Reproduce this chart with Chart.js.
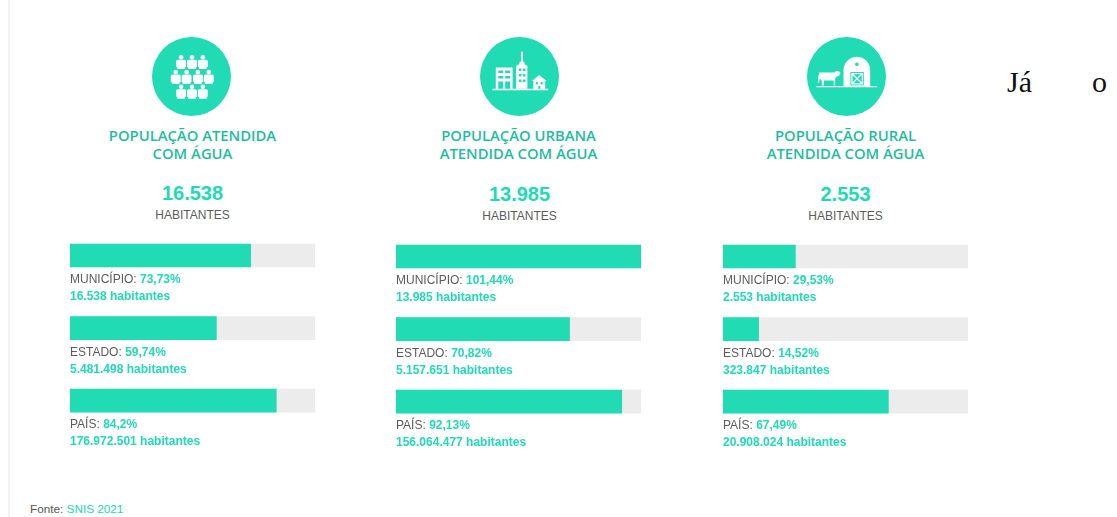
<!DOCTYPE html>
<html lang="pt-BR">
<head>
<meta charset="utf-8">
<title>População atendida com água</title>
<script src="https://cdn.jsdelivr.net/npm/chart.js@4/dist/chart.umd.min.js"></script>
<style>
    html, body { margin: 0; padding: 0; background: #fff; }
    body { width: 1117px; height: 517px; position: relative; overflow: hidden; font-family: "Liberation Sans", Arial, sans-serif; }
    .rule { position: absolute; left: 8px; top: 0; width: 2px; height: 517px; background: #f3f3f3; }
    .panel { position: absolute; top: 0; width: 245px; height: 517px; }
    .panel svg { position: absolute; top: 37px; width: 79px; height: 79px; }
    .title { position: absolute; top: 126px; left: -20px; width: 285px; text-align: center; font: 600 14.8px/18px "Open Sans", sans-serif; color: #1fbd9e; }
    .total { position: absolute; top: 181px; width: 245px; text-align: center; font-weight: bold; font-size: 20px; line-height: 24px; color: #20dbb3; }
    .unit { position: absolute; top: 208px; width: 245px; text-align: center; font-size: 12px; line-height: 14px; color: #5c5c5c; }
    canvas { position: absolute; left: 0; }
    .label { position: absolute; left: 0; font-size: 12px; line-height: 16.5px; color: #5c5c5c; white-space: nowrap; }
    .label b { color: #20dbb3; }
    .source { position: absolute; left: 30px; top: 502px; font-size: 11.75px; line-height: 14px; color: #555; }
    .source span { color: #20dbb3; }
    .stray { position: absolute; top: 68px; font: 30px/28px "Liberation Serif", serif; color: #111; }
</style>
</head>
<body>
<div class="rule"></div>
<div id="panels"></div>
<div class="source">Fonte: <span>SNIS 2021</span></div>
<div class="stray" style="left:1007px">Já</div>
<div class="stray" style="left:1092px">o</div>

<script>
const scopes = ['MUNICÍPIO', 'ESTADO', 'PAÍS'];
const panelTitles = ['POPULAÇÃO ATENDIDA<br>COM ÁGUA', 'POPULAÇÃO URBANA<br>ATENDIDA COM ÁGUA', 'POPULAÇÃO RURAL<br>ATENDIDA COM ÁGUA'];
const panelTotals = ['16.538', '13.985', '2.553'];

const atendidaValues = [73.73, 59.74, 84.2];
const urbanaValues = [101.44, 70.82, 92.13];
const ruralValues = [29.53, 14.52, 67.49];

const atendidaPercents = ['73,73%', '59,74%', '84,2%'];
const urbanaPercents = ['101,44%', '70,82%', '92,13%'];
const ruralPercents = ['29,53%', '14,52%', '67,49%'];

const atendidaPeople = ['16.538', '5.481.498', '176.972.501'];
const urbanaPeople = ['13.985', '5.157.651', '156.064.477'];
const ruralPeople = ['2.553', '323.847', '20.908.024'];

const trackValues = [100, 100, 100];

const panelLefts = [70, 396, 723];
const panelTops = [0, 1, 1];
const iconLefts = [81.7, 83.7, 83.7];
const totalLefts = [0, 1, 0];

// icons are plain decoration, one per panel
function person(x, y) {
    return `<circle cx="${x}" cy="${y}" r="2.3"/><path d="M${x - 5} ${y + 4}q0-1.500 2-1.500h6q2 0 2 1.500v6h-1v2h-8v-2h-1z"/>`;
}
const peopleIcon = [[29.5, 20.5], [40.5, 20.5], [51.5, 20.5], [24, 35.5], [35, 35.5], [46.5, 35.5], [57.5, 35.5], [29.5, 50.5], [40.5, 50.5], [51.5, 50.5]]
    .map(p => person(p[0], p[1])).join('');
const cityIcon = `<path d="M12.5 52.5h56.5v1.3H12.5z"/>
    <path fill-rule="evenodd" d="M16 31h17v21.5H16zM18.5 34v2.5h5V34zM25.5 34v2.5h5V34zM18.5 39.5V42h5v-2.500zM25.500 39.500V42h5v-2.500zM18.500 45v7.500h5V45zM25.500 45v7.500h5V45z"/>
    <path fill-rule="evenodd" d="M36.500 52.500V29l3.500-1.500V25h1.500V15h2v10H45v2.500l3 1.500v23.500zM39.500 32v2.500h2.500V32zM43.500 32v2.500H46V32zM39.500 37.500V40h2.500v-2.500zM43.500 37.500V40H46v-2.500zM39.500 43v2.500h2.500V43zM43.500 43v2.500H46V43z"/>
    <path fill-rule="evenodd" d="M54 52.500V44.500h-1.500L60 38.500l7.500 6H66v8zM56.500 45.500v2.500h2v-2.500zM61.500 45.500v2.500h2v-2.500zM59 49.500v3h2v-3z"/>`;
const farmIcon = `<path d="M9.500 49.500H71v1.300H9.500z"/>
    <path d="M12.500 36h15l2-1.500h2.500l2 2-1.500 2.500-3 1.500-1 2v6.500h-1.500v-5h-10v5H15v-5l-2-2-.7 4H11l.5-6z"/>
    <path d="M37 49.500V33.500a13.500 13.500 0 0 1 27 0v16z"/>
    <circle cx="50.500" cy="27.500" r="1.800" fill="#20dbb3"/>
    <path d="M44 35.500h13.500V49H44z" fill="#20dbb3"/>
    <path d="M45.500 37h10.500v10.500H45.500zM45.500 37l10.500 10.500M56 37L45.500 47.500" stroke="#fff" stroke-width="1.200" fill="none"/>`;
const panelIcons = [peopleIcon, cityIcon, farmIcon];

const panelValues = [atendidaValues, urbanaValues, ruralValues];
const panelPercents = [atendidaPercents, urbanaPercents, ruralPercents];
const panelPeople = [atendidaPeople, urbanaPeople, ruralPeople];

function buildPanel(index) {
    const panel = document.createElement('div');
    const top = panelTops[index];
    const textLeft = totalLefts[index];
    panel.className = 'panel';
    panel.style.left = panelLefts[index] + 'px';

    let labels = '';
    scopes.forEach((scope, i) => {
        const y = 271 + top + Math.round(i * 72.5);
        labels += `<div class="label" style="top:${y}px">${scope}: <b>${panelPercents[index][i]}</b><br><b>${panelPeople[index][i]} habitantes</b></div>`;
    });

    panel.innerHTML = `
        <svg viewBox="0 0 80 80" style="left:${iconLefts[index]}px"><circle cx="40" cy="40" r="40" fill="#20dbb3"/><g fill="#fff">${panelIcons[index]}</g></svg>
        <div class="title">${panelTitles[index]}</div>
        <div class="total" style="margin-top:${top}px;left:${textLeft}px">${panelTotals[index]}</div>
        <div class="unit" style="margin-top:${top}px;left:${textLeft}px">HABITANTES</div>
        <canvas width="245" height="218" style="top:${219 + top}px"></canvas>
        ${labels}`;
    document.getElementById('panels').appendChild(panel);

    new Chart(panel.querySelector('canvas').getContext('2d'), {
        type: 'bar',
        data: {
            labels: scopes,
            datasets: [
                { data: panelValues[index], backgroundColor: '#20dbb3', barThickness: 23, grouped: false, order: 1 },
                { data: trackValues, backgroundColor: '#ececec', barThickness: 23, grouped: false, order: 2 }
            ]
        },
        options: {
            indexAxis: 'y',
            responsive: false,
            animation: false,
            layout: { padding: { top: 0.2 } },
            plugins: {
                legend: { display: false },
                tooltip: { enabled: false }
            },
            scales: {
                x: { display: false, min: 0, max: 100 },
                y: { display: false }
            }
        }
    });
}

panelValues.forEach((values, index) => buildPanel(index));
</script>
</body>
</html>
